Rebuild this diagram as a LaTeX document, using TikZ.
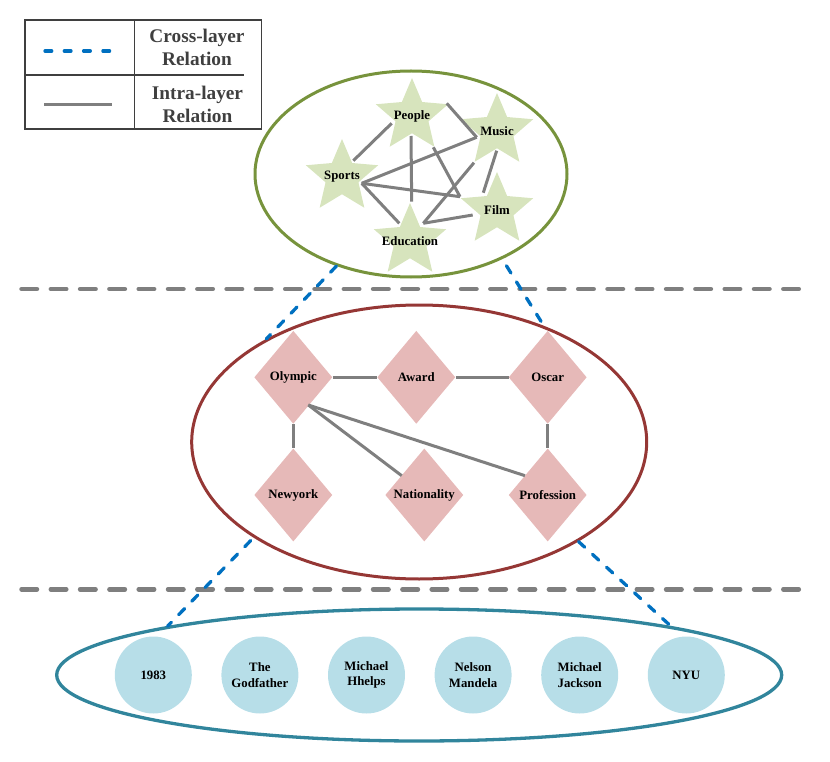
\documentclass[tikz,border=0pt]{standalone}
\usepackage{fontspec}
\setmainfont{Liberation Serif}
\usetikzlibrary{shapes.geometric,calc}
\definecolor{topgreen}{HTML}{77933C}
\definecolor{starfill}{HTML}{D7E4BD}
\definecolor{midred}{HTML}{953735}
\definecolor{diafill}{HTML}{E6B9B8}
\definecolor{botteal}{HTML}{31859C}
\definecolor{circfill}{HTML}{B7DEE8}
\definecolor{edgegray}{HTML}{7F7F7F}
\definecolor{crossblue}{HTML}{0070C0}
\definecolor{legtext}{HTML}{3F3F3F}
\begin{document}
\begin{tikzpicture}[x=1pt,y=-1pt,
  lbl/.style={font=\fontsize{12.8}{15.4}\selectfont\bfseries, text=black, inner sep=0},
  starnode/.style={shape=star, star points=5, star point ratio=2.2, minimum size=76, inner sep=0, fill=starfill, draw=none},
  dianode/.style={shape=diamond, minimum width=78, minimum height=93, inner sep=0, fill=diafill, draw=none},
  circnode/.style={shape=circle, minimum size=77, inner sep=0, fill=circfill, draw=none, align=center, font=\fontsize{12.8}{15.6}\selectfont\bfseries},
  layer/.style={shape=ellipse, inner sep=0, line width=3},
  edge/.style={draw=edgegray, line width=3},
  cross/.style={draw=crossblue, line width=3.3, line cap=round, dash pattern=on 8.5 off 10.5},
  sep/.style={draw=edgegray, line width=4.5, line cap=round, dash pattern=on 15.5 off 13.8},
  legtxt/.style={font=\fontsize{19.3}{23}\selectfont\bfseries, text=legtext, align=center, inner sep=0}
]
\useasboundingbox (0,0) rectangle (830,762);

% legend
\draw[draw=legtext, line width=1.2] (25,20) rectangle (261.7,129);
\draw[draw=legtext, line width=1.2] (134.3,20) -- (134.3,129);
\draw[draw=legtext, line width=1.2] (25,75) -- (244,75);
\coordinate (lc1) at (45,51);
\coordinate (lc2) at (114,51);
\coordinate (li1) at (44.3,104.3);
\coordinate (li2) at (112.3,104.3);
\draw[draw=crossblue, line width=3.3, line cap=round, dash pattern=on 6.7 off 12.6] (lc1) -- (lc2);
\draw[edge] (li1) -- (li2);
\node[legtxt] (legcross) at (197,47.5) {Cross-layer\\Relation};
\node[legtxt] (legintra) at (197.5,104) {Intra-layer\\Relation};

% separators
\coordinate (s1a) at (21.5,289);
\coordinate (s1b) at (804,289);
\coordinate (s2a) at (21.5,589.3);
\coordinate (s2b) at (804,589.3);
\draw[sep] (s1a) -- (s1b);
\draw[sep] (s2a) -- (s2b);

% layers
\node[layer, draw=topgreen, minimum width=312, minimum height=206] (toplayer) at (411,174) {};
\node[layer, draw=midred, minimum width=455, minimum height=274] (midlayer) at (419.2,442) {};
\node[layer, draw=botteal, line width=3.3, minimum width=725, minimum height=132] (botlayer) at (419.2,675) {};

% cross-layer relations
\draw[cross] (toplayer.231.7) -- (midlayer.146.3);
\draw[cross, shorten <=7.8pt] (toplayer.317.8) -- (midlayer.43.4);
\draw[cross, shorten <=4pt] (midlayer.210.6) -- (botlayer.169.24);
\draw[cross] (midlayer.328.2) -- (botlayer.11.86);

% top layer: stars
\node[starnode, label={[lbl]center:People}] (people) at (412,116) {};
\node[starnode, label={[lbl]center:Music}] (music) at (497,131) {};
\node[starnode, label={[lbl]center:Sports}] (sports) at (342,177) {};
\node[starnode, label={[lbl]center:Film}] (film) at (497,210) {};
\node[starnode, label={[lbl]center:Education}] (edu) at (410,241) {};

\draw[edge] ($(sports)+(11.3,-16.3)$) -- ($(people)+(-20.3,7.3)$);
\draw[edge] ($(people)+(34.7,-12.7)$) -- ($(music)+(-20.3,6.3)$);
\draw[edge] ($(sports)+(19.7,6.3)$) -- ($(music)+(-20.3,6.3)$);
\draw[edge] ($(people)+(-1,20)$) -- ($(edu)+(1.7,-39.3)$);
\draw[edge] ($(people)+(21.3,31.3)$) -- ($(film)+(-37,-13.3)$);
\draw[edge] ($(sports)+(19.7,6.3)$) -- ($(film)+(-37,-13.3)$);
\draw[edge] ($(sports)+(19.7,6.3)$) -- ($(edu)+(-10.7,-17.7)$);
\draw[edge] ($(music)+(-23,31.7)$) -- ($(edu)+(13.3,-17.7)$);
\draw[edge] ($(music)+(-0.3,19.7)$) -- ($(film)+(-13.7,-17.3)$);
\draw[edge] ($(film)+(-24.3,5)$) -- ($(edu)+(13.3,-17.7)$);

% middle layer: diamonds
\node[dianode, label={[lbl]center:Olympic}] (olympic) at (293.3,377.3) {};
\node[dianode, label={[lbl]center:Award}] (award) at (416.3,377.3) {};
\node[dianode, label={[lbl]center:Oscar}] (oscar) at (547.7,377.3) {};
\node[dianode, label={[lbl]center:Newyork}] (newyork) at (293.3,495) {};
\node[dianode, label={[lbl]center:Nationality}] (nation) at (424.3,495) {};
\node[dianode, label={[lbl]center:Profession}] (prof) at (547.7,495) {};

\draw[edge] (olympic.east) -- (award.west);
\draw[edge] (award.east) -- (oscar.west);
\draw[edge] (olympic.south) -- (newyork.north);
\draw[edge] (oscar.south) -- (prof.north);
\draw[edge] ($(olympic)+(15,27.7)$) -- ($(nation)+(-22.6,-19.3)$);
\draw[edge] ($(olympic)+(15,27.7)$) -- ($(prof)+(-22.7,-19.3)$);

% bottom layer: entities
\node[circnode] (e1983) at (153.3,675) {1983};
\node[circnode] (godfather) at (259.9,675) {The\\Godfather};
\node[circnode] (phelps) at (366.5,675) {Michael\\Hhelps};
\node[circnode] (mandela) at (473.1,675) {Nelson\\Mandela};
\node[circnode] (jackson) at (579.7,675) {Michael\\Jackson};
\node[circnode] (nyu) at (686.3,675) {NYU};
\end{tikzpicture}
\end{document}
